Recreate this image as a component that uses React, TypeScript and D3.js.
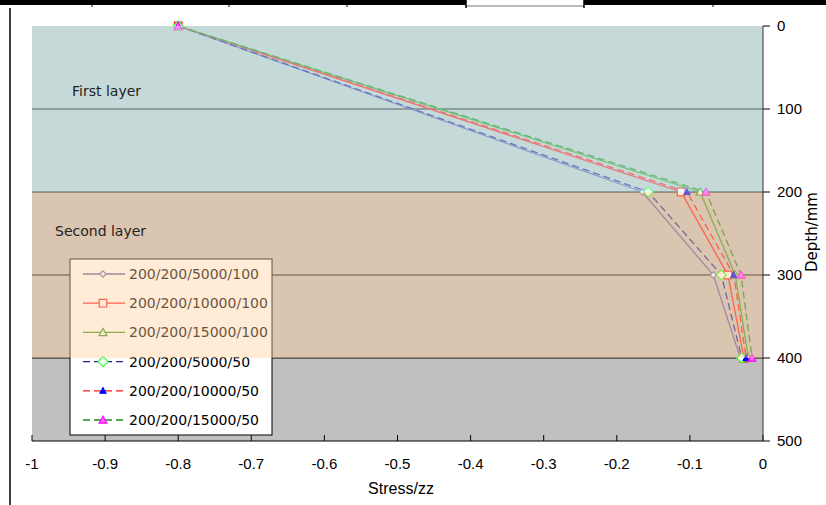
import React from "react";
import * as d3 from "d3";

const depths = [0, 200, 300, 400];
const seriesNames = [
  "200/200/5000/100",
  "200/200/10000/100",
  "200/200/15000/100",
  "200/200/5000/50",
  "200/200/10000/50",
  "200/200/15000/50",
];
const s5000_100 = [-0.8, -0.165, -0.068, -0.031];
const s10000_100 = [-0.8, -0.112, -0.048, -0.026];
const s15000_100 = [-0.8, -0.086, -0.038, -0.02];
const s5000_50 = [-0.8, -0.157, -0.057, -0.029];
const s10000_50 = [-0.8, -0.104, -0.04, -0.023];
const s15000_50 = [-0.8, -0.078, -0.03, -0.015];
const seriesValues = [s5000_100, s10000_100, s15000_100, s5000_50, s10000_50, s15000_50];

const xTicks = [-1, -0.9, -0.8, -0.7, -0.6, -0.5, -0.4, -0.3, -0.2, -0.1, 0];
const xTickLabels = ["-1", "-0.9", "-0.8", "-0.7", "-0.6", "-0.5", "-0.4", "-0.3", "-0.2", "-0.1", "0"];
const yTicks = [0, 100, 200, 300, 400, 500];
const layerNames = ["First layer", "Second layer"];
const layerBounds = [[0, 200], [200, 400]];

type Shape = "diamond" | "square" | "triangle";
type Style = {
  stroke: string;
  dash?: string;
  shape: Shape;
  r: number;
  mStroke: string;
  mFill: string;
};

const styles: Style[] = [
  { stroke: "#6a5aa8", shape: "diamond", r: 3.2, mStroke: "#7a6cb0", mFill: "#ffffff" },
  { stroke: "#ff1a1a", shape: "square", r: 3.8, mStroke: "#ff1a1a", mFill: "#ffffff" },
  { stroke: "#3c9a1e", shape: "triangle", r: 4, mStroke: "#3c9a1e", mFill: "#ffffff" },
  { stroke: "#1c1c96", dash: "7,4", shape: "diamond", r: 5, mStroke: "#33ff33", mFill: "#ffffff" },
  { stroke: "#ff1a1a", dash: "7,4", shape: "triangle", r: 3, mStroke: "#0000ff", mFill: "#0000ff" },
  { stroke: "#1f8a1f", dash: "7,4", shape: "triangle", r: 3.8, mStroke: "#ff00ff", mFill: "#ff66ff" },
];

function markerPath(shape: Shape, r: number): string {
  const p = d3.path();
  if (shape === "diamond") {
    p.moveTo(0, -r);
    p.lineTo(r, 0);
    p.lineTo(0, r);
    p.lineTo(-r, 0);
    p.closePath();
  } else if (shape === "square") {
    p.rect(-r, -r, 2 * r, 2 * r);
  } else {
    p.moveTo(0, -r);
    p.lineTo(r, r * 0.8);
    p.lineTo(-r, r * 0.8);
    p.closePath();
  }
  return p.toString();
}

const x = d3.scaleLinear().domain([-1, 0]).range([32, 763]);
const y = d3.scaleLinear().domain([0, 500]).range([26, 441]);

const tickFont = "'Liberation Sans Narrow', 'Arial Narrow', 'Liberation Sans', Arial, sans-serif";
const textFont = "'DejaVu Sans', Verdana, sans-serif";

export default function App() {
  const line = d3
    .line<[number, number]>()
    .x((d) => x(d[0]))
    .y((d) => y(d[1]));

  const legendX = 70;
  const legendY = 259;
  const legendW = 202;
  const legendH = 176;
  const rowH = 29.2;

  return (
    <svg
      width={826}
      height={505}
      style={{ position: "absolute", left: 0, top: 0, background: "#ffffff" }}
    >
      {/* frame / table fragments */}
      <rect x={0} y={0} width={466} height={5} fill="#000" />
      <rect x={584} y={0} width={242} height={5} fill="#000" />
      <line x1={466} x2={584} y1={6} y2={6} stroke="#777" strokeWidth={1} />
      {[92, 229, 347].map((d) => (
        <line key={d} x1={d} x2={d} y1={0} y2={7} stroke="#000" strokeWidth={1} />
      ))}
      <line x1={466} x2={466} y1={0} y2={8} stroke="#000" strokeWidth={1.5} />
      <line x1={584} x2={584} y1={0} y2={8} stroke="#000" strokeWidth={1.5} />
      <line x1={713} x2={713} y1={0} y2={7} stroke="#000" strokeWidth={1} />
      <line x1={10} x2={10} y1={8} y2={505} stroke="#000" strokeWidth={1.5} />

      {/* plot area */}
      <rect x={x(-1)} y={y(0)} width={x(0) - x(-1)} height={y(500) - y(0)} fill="#c0c0c0" />

      {/* gridlines */}
      {yTicks.slice(1, 5).map((t) => (
        <line key={t} x1={x(-1)} x2={x(0)} y1={y(t)} y2={y(t)} stroke="#000" strokeWidth={1} />
      ))}

      {/* series */}
      {seriesValues.map((vals, i) => {
        const pts: [number, number][] = vals.map((v, j) => [v, depths[j]]);
        const st = styles[i];
        return (
          <path
            key={i}
            d={line(pts) || ""}
            fill="none"
            stroke={st.stroke}
            strokeWidth={1.3}
            strokeDasharray={st.dash}
          />
        );
      })}
      {seriesValues.map((vals, i) => {
        const st = styles[i];
        const sym = markerPath(st.shape, st.r);
        return (
          <g key={"m" + i}>
            {vals.map((v, j) => (
              <path
                key={j}
                d={sym}
                transform={`translate(${x(v)},${y(depths[j])})`}
                fill={st.mFill}
                stroke={st.mStroke}
                strokeWidth={1.2}
              />
            ))}
          </g>
        );
      })}

      {/* legend */}
      <rect x={legendX} y={legendY} width={legendW} height={legendH} fill="#ffffff" stroke="#000" strokeWidth={1} />
      {seriesNames.map((name, i) => {
        const st = styles[i];
        const cy = legendY + 15 + i * rowH;
        const sym = markerPath(st.shape, st.r);
        return (
          <g key={name}>
            <line
              x1={legendX + 13}
              x2={legendX + 55}
              y1={cy}
              y2={cy}
              stroke={st.stroke}
              strokeWidth={1.3}
              strokeDasharray={st.dash}
            />
            <path
              d={sym}
              transform={`translate(${legendX + 33},${cy})`}
              fill={st.mFill}
              stroke={st.mStroke}
              strokeWidth={1.2}
            />
            <text x={legendX + 59} y={cy + 5} fontFamily={textFont} fontSize={14} fill="#000">
              {name}
            </text>
          </g>
        );
      })}

      {/* layer overlays */}
      <rect
        x={x(-1)}
        y={y(layerBounds[0][0])}
        width={x(0) - x(-1)}
        height={y(layerBounds[0][1]) - y(layerBounds[0][0])}
        fill="#ccffff"
        fillOpacity={0.4}
      />
      <rect
        x={x(-1)}
        y={y(layerBounds[1][0])}
        width={x(0) - x(-1)}
        height={y(layerBounds[1][1]) - y(layerBounds[1][0])}
        fill="#ffcc99"
        fillOpacity={0.4}
      />
      <text x={72} y={96} fontFamily={textFont} fontSize={14} fill="#222">
        {layerNames[0]}
      </text>
      <text x={55} y={236} fontFamily={textFont} fontSize={14} fill="#222">
        {layerNames[1]}
      </text>

      {/* x axis */}
      <line x1={x(-1)} x2={x(0)} y1={y(500)} y2={y(500)} stroke="#000" strokeWidth={1} />
      {xTicks.map((t, i) => (
        <g key={t}>
          <line x1={x(t)} x2={x(t)} y1={y(500)} y2={y(500) - 6} stroke="#000" strokeWidth={1} />
          <text x={x(t)} y={469} textAnchor="middle" fontFamily={tickFont} fontSize={15} fill="#000">
            {xTickLabels[i]}
          </text>
        </g>
      ))}
      <text x={401} y={494} textAnchor="middle" fontFamily={tickFont} fontSize={16} fill="#000">
        Stress/zz
      </text>

      {/* y axis (right) */}
      <line x1={x(0)} x2={x(0)} y1={y(0)} y2={y(500)} stroke="#333" strokeWidth={1} />
      {yTicks.map((t) => (
        <g key={t}>
          <line x1={x(0)} x2={x(0) + 7} y1={y(t)} y2={y(t)} stroke="#000" strokeWidth={1} />
          <text x={777} y={y(t) + 5} fontFamily={tickFont} fontSize={15} fill="#000">
            {t}
          </text>
        </g>
      ))}
      <text
        transform={`translate(817,232) rotate(-90)`}
        textAnchor="middle"
        fontFamily={textFont}
        fontSize={15}
        fill="#000"
      >
        Depth/mm
      </text>
    </svg>
  );
}
